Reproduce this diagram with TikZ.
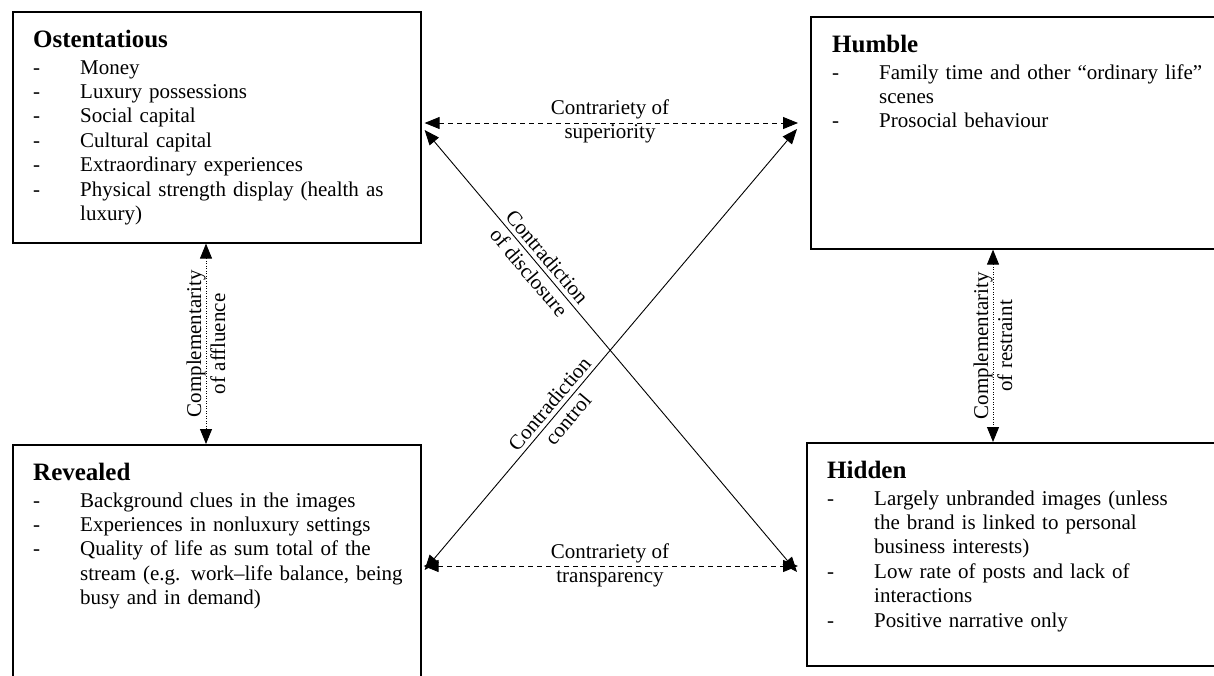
\documentclass[tikz,border=0pt]{standalone}
\usepackage{fontspec}
\setmainfont{Liberation Serif}
\usetikzlibrary{arrows.meta,calc}
\newcommand\itm[1]{\par\hangindent=47pt\hangafter=1\noindent\makebox[47pt][l]{-}\strut#1}
\newcommand\hd[1]{{\fontsize{25}{27}\selectfont\bfseries\strut #1\par}\vspace{0.8pt}}
\tikzset{
  box/.style={draw, line width=1.6pt, fill=white, inner sep=0pt, anchor=north west},
  txt/.style={anchor=north west, inner sep=0pt, text width=#1, align=left,
              font=\fontsize{21}{24.4}\selectfont},
  lab/.style={align=center, inner sep=0pt, font=\fontsize{21}{24}\selectfont},
  conn/.style={line width=0.9pt, {Triangle[length=15pt,width=12pt]}-{Triangle[length=15pt,width=12pt]}},
  dashconn/.style={conn, dash pattern=on 5pt off 4pt},
  dotconn/.style={conn, dash pattern=on 1pt off 1.5pt},
}
\begin{document}
\begin{tikzpicture}[x=1pt, y=-1pt]
\useasboundingbox (0,0) rectangle (1214,675);
% boxes
\node[box, minimum width=408pt, minimum height=231pt] (ost) at (12,11) {};
\node[box, minimum width=420pt, minimum height=232pt] (hum) at (810,16) {};
\node[box, minimum width=408pt, minimum height=260pt] (rev) at (12,444) {};
\node[box, minimum width=420pt, minimum height=223pt] (hid) at (806,442) {};
% texts
\node[txt=380pt] (ostt) at (33,28) {\hd{Ostentatious}%
  \itm{Money}\itm{Luxury possessions}\itm{Social capital}\itm{Cultural capital}%
  \itm{Extraordinary experiences}\itm{Physical strength display (health as\newline luxury)}\par};
\node[txt=375pt] (humt) at (832,33) {\hd{Humble}%
  \itm{Family time and other ``ordinary life''\newline scenes}\itm{Prosocial behaviour}\par};
\node[txt=380pt] (revt) at (33,461) {\hd{Revealed}%
  \itm{Background clues in the images}\itm{Experiences in nonluxury settings}%
  \itm{Quality of life as sum total of the\newline stream (e.g. work--life balance, being\newline busy and in demand)}\par};
\node[txt=380pt] (hidt) at (827,459) {\hd{Hidden}%
  \itm{Largely unbranded images (unless\newline the brand is linked to personal\newline business interests)}%
  \itm{Low rate of posts and lack of\newline interactions}\itm{Positive narrative only}\par};
% connector end points
\coordinate (oT) at ([xshift=3pt]ost.east |- 0,123);
\coordinate (hT) at ([xshift=-12pt]hum.west |- 0,123);
\coordinate (rB) at ([xshift=2pt]rev.east |- 0,566);
\coordinate (dB) at ([xshift=-8pt]hid.west |- 0,566);
\coordinate (oD) at ([xshift=3pt]ost.east |- 0,130);
\coordinate (dD) at ([xshift=-9pt]hid.west |- 0,572);
\coordinate (rD) at ([xshift=3pt]rev.east |- 0,570);
\coordinate (hD) at ([xshift=-13pt]hum.west |- 0,129);
\coordinate (oV) at (ost.south -| 206,0);
\coordinate (rV) at (rev.north -| 206,0);
\coordinate (hV) at (hum.south -| 993,0);
\coordinate (dV) at (hid.north -| 993,0);
% connectors
\draw[dashconn] (oT) -- (hT);
\node[lab] (l1) at (610,121) {Contrariety of\\superiority};
\draw[dashconn] (rB) -- (dB);
\node[lab] (l2) at (610,565) {Contrariety of\\transparency};
\draw[conn] (oD) -- node[lab, sloped, pos=0.305] (l3) {Contradiction\\of disclosure} (dD);
\draw[conn] (rD) -- node[lab, sloped, pos=0.36] (l4) {Contradiction\\control} (hD);
\draw[dotconn] (oV) -- node[lab, rotate=90] (l5) {Complementarity\\of affluence} (rV);
\draw[dotconn] (hV) -- node[lab, rotate=90] (l6) {Complementarity\\of restraint} (dV);
\end{tikzpicture}
\end{document}
